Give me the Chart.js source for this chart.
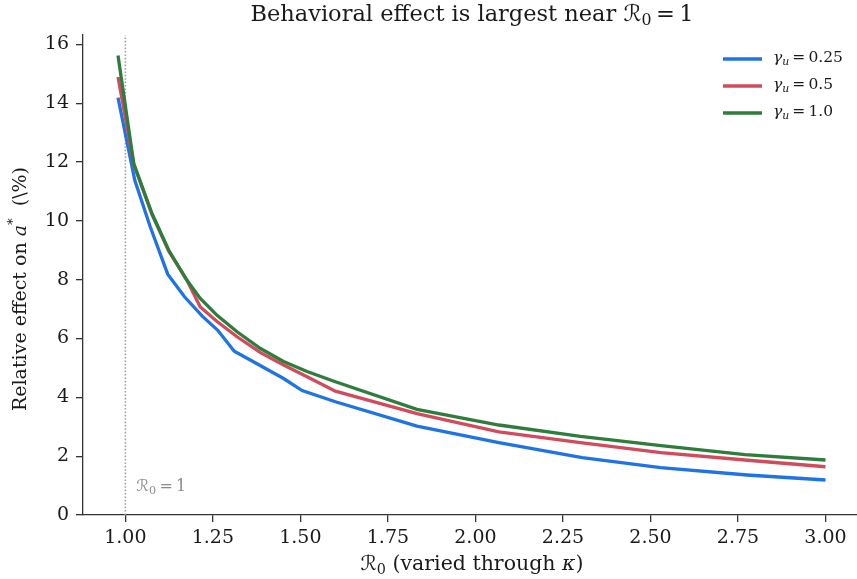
<!DOCTYPE html>
<html>
<head>
<meta charset="utf-8">
<script src="https://cdn.jsdelivr.net/npm/chart.js@4.4.1/dist/chart.umd.min.js"></script>
<style>
  html, body { margin: 0; padding: 0; background: #fff; }
  #wrap { width: 857px; height: 579px; position: relative; }
</style>
</head>
<body>
<div id="wrap"><canvas id="chart"></canvas></div>
<script>
// values
const R0_BLUE = [0.979, 1.027, 1.071, 1.121, 1.169, 1.219, 1.264, 1.311, 1.367, 1.452, 1.505, 1.6, 1.833, 2.067, 2.305, 2.529, 2.776, 3.0];
const EFF_BLUE = [14.19, 11.38, 9.8, 8.19, 7.42, 6.77, 6.28, 5.57, 5.2, 4.64, 4.23, 3.85, 3.02, 2.46, 1.95, 1.61, 1.36, 1.19];

const R0_RED = [0.979, 1.024, 1.076, 1.124, 1.176, 1.214, 1.262, 1.319, 1.386, 1.452, 1.519, 1.6, 1.833, 2.067, 2.3, 2.53, 2.77, 3.0];
const EFF_RED = [14.89, 11.92, 10.22, 8.97, 7.98, 7.07, 6.58, 6.06, 5.52, 5.1, 4.7, 4.21, 3.45, 2.83, 2.46, 2.12, 1.87, 1.64];

const R0_GREEN = [0.979, 1.024, 1.076, 1.124, 1.176, 1.214, 1.262, 1.319, 1.386, 1.452, 1.519, 1.6, 1.833, 2.067, 2.3, 2.53, 2.77, 3.0];
const EFF_GREEN = [15.62, 11.95, 10.25, 9.0, 7.98, 7.36, 6.79, 6.23, 5.66, 5.22, 4.88, 4.53, 3.59, 3.06, 2.67, 2.36, 2.05, 1.87];

const GAMMA_LABELS = ['0.25', '0.5', '1.0'];
const X_TICKS = [1.0, 1.25, 1.5, 1.75, 2.0, 2.25, 2.5, 2.75, 3.0];
const Y_TICKS = [0, 2, 4, 6, 8, 10, 12, 14, 16];
const R0_REF = 1.0;

const COLORS = ['#1f73e6', '#d24b5c', '#2e7d3c'];
const SERIF = '"DejaVu Serif", "DejaVu Sans", serif';
const INK = '#1a1a1a';
const EQ = '\u2009=\u2009';

const pts = (xs, ys) => xs.map((x, i) => ({ x: x, y: ys[i] }));

// draws a list of text pieces, some italic / subscript / superscript
function richWidth(ctx, segs, size) {
    let w = 0;
    segs.forEach(s => {
        const fs = (s.sub || s.sup) ? size * 0.7 : size;
        ctx.font = `${s.it ? 'italic ' : ''}${fs}px ${SERIF}`;
        w += ctx.measureText(s.t).width;
    });
    return w;
}
function drawRich(ctx, segs, x, y, size, align, color) {
    let cx = x;
    const w = richWidth(ctx, segs, size);
    if (align === 'center') cx = x - w / 2;
    if (align === 'right') cx = x - w;
    ctx.fillStyle = color;
    ctx.textBaseline = 'middle';
    ctx.textAlign = 'left';
    segs.forEach(s => {
        const fs = (s.sub || s.sup) ? size * 0.7 : size;
        ctx.font = `${s.it ? 'italic ' : ''}${fs}px ${SERIF}`;
        let dy = 0;
        if (s.sub) dy = size * 0.28;
        if (s.sup) dy = -size * 0.38;
        ctx.fillText(s.t, cx, y + dy);
        cx += ctx.measureText(s.t).width;
    });
}

const textPlugin = {
    id: 'texts',
    afterDraw(chart) {
        const ctx = chart.ctx;
        const a = chart.chartArea;
        const xs = chart.scales.x, ys = chart.scales.y;
        ctx.save();
        // title
        drawRich(ctx, [
            { t: 'Behavioral effect is largest near ' },
            { t: 'ℛ' }, { t: '0', sub: true }, { t: EQ + '1' }
        ], (a.left + 861) / 2, 15, 22.5, 'center', INK);
        // x axis label
        drawRich(ctx, [
            { t: 'ℛ' }, { t: '0', sub: true }, { t: ' (varied through ' }, { t: 'κ', it: true }, { t: ')' }
        ], (a.left + 861) / 2, 565, 20.5, 'center', INK);
        // y axis label
        ctx.save();
        ctx.translate(21, 289);
        ctx.rotate(-Math.PI / 2);
        drawRich(ctx, [
            { t: 'Relative effect on ' }, { t: 'a', it: true }, { t: '*', sup: true }, { t: '  (\\%)' }
        ], 0, 0, 19, 'center', INK);
        ctx.restore();
        // reference label
        drawRich(ctx, [{ t: 'ℛ' }, { t: '0', sub: true }, { t: EQ + '1' }],
            xs.getPixelForValue(R0_REF) + 11, ys.getPixelForValue(0.95), 16, 'left', '#8c8c8c');
        // legend
        GAMMA_LABELS.forEach((g, i) => {
            const y = 59 + i * 27;
            ctx.strokeStyle = COLORS[i];
            ctx.lineWidth = 3.3;
            ctx.beginPath();
            ctx.moveTo(723, y);
            ctx.lineTo(762, y);
            ctx.stroke();
            drawRich(ctx, [{ t: 'γ', it: true }, { t: 'u', it: true, sub: true }, { t: EQ + g }],
                773, y - 1, 15.5, 'left', INK);
        });
        ctx.restore();
    }
};

const tickFont = { family: SERIF, size: 19 };

new Chart(document.getElementById('chart'), {
    type: 'line',
    data: {
        datasets: [
            { data: pts(R0_BLUE, EFF_BLUE), borderColor: COLORS[0], order: 3 },
            { data: pts(R0_RED, EFF_RED), borderColor: COLORS[1], order: 2 },
            { data: pts(R0_GREEN, EFF_GREEN), borderColor: COLORS[2], order: 1 },
            {
                data: [{ x: R0_REF, y: 0 }, { x: R0_REF, y: 16.32 }],
                borderColor: '#a0a0a0', borderWidth: 1.6, borderDash: [1.6, 1.8], order: 4
            }
        ]
    },
    options: {
        responsive: true,
        maintainAspectRatio: false,
        animation: false,
        layout: { padding: { top: 35, right: 0, left: 0, bottom: 0 } },
        elements: {
            line: { borderWidth: 3.3, tension: 0, fill: false },
            point: { radius: 0 }
        },
        plugins: { legend: { display: false }, tooltip: { enabled: false } },
        scales: {
            x: {
                type: 'linear', min: 0.879, max: 3.09,
                afterBuildTicks: s => { s.ticks = X_TICKS.map(v => ({ value: v })); },
                afterFit: s => { s.height = 64; },
                ticks: { font: tickFont, color: INK, padding: 5, maxRotation: 0, callback: v => v.toFixed(2) },
                grid: { drawOnChartArea: false, tickLength: 7, color: '#333', lineWidth: 1.3 },
                border: { color: '#333', width: 1.3 }
            },
            y: {
                min: 0, max: 16.32,
                afterBuildTicks: s => { s.ticks = Y_TICKS.map(v => ({ value: v })); },
                afterFit: s => { s.width = 83; },
                ticks: { font: tickFont, color: INK, padding: 7, callback: v => String(v) },
                grid: { drawOnChartArea: false, tickLength: 7, color: '#333', lineWidth: 1.3 },
                border: { color: '#333', width: 1.3 }
            }
        }
    },
    plugins: [textPlugin]
});
</script>
</body>
</html>
